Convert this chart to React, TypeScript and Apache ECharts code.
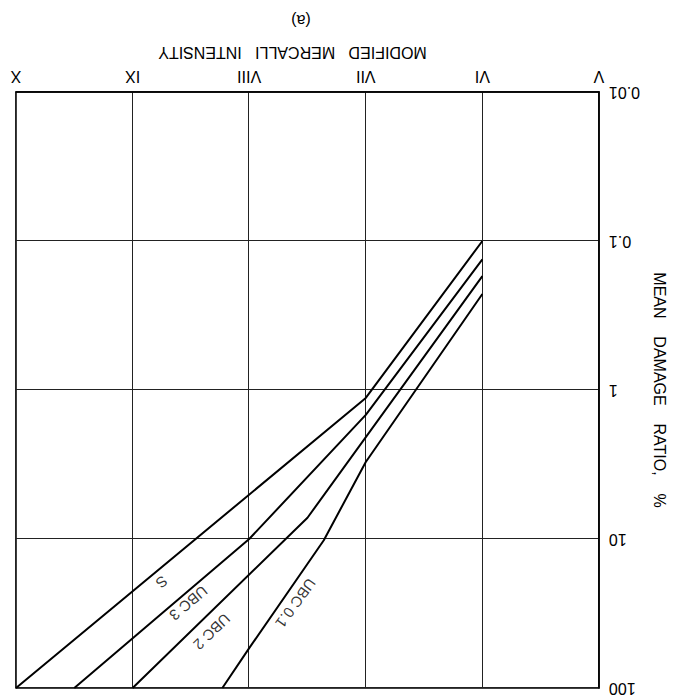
import React, { useEffect, useRef } from "react";
import * as echarts from "echarts";

// Modified Mercalli Intensity axis (numeric 5..10 shown as roman numerals)
const intensityTicks = [5, 6, 7, 8, 9, 10];
const intensityLabels = ["V", "VI", "VII", "VIII", "IX", "X"];
// Mean damage ratio, % (log scale)
const ratioTicks = [0.01, 0.1, 1, 10, 100];
const ratioLabels = ["0.01", "0.1", "1", "10", "100"];

const seriesNames = ["S", "UBC 3", "UBC 2", "UBC 0.1"];

// curve S
const sIntensity = [6, 7, 10];
const sRatio = [0.1, 1.13, 100];
// curve UBC 3
const ubc3Intensity = [6, 7, 8, 9.5];
const ubc3Ratio = [0.133, 1.47, 10, 100];
// curve UBC 2
const ubc2Intensity = [6, 7.5, 9];
const ubc2Ratio = [0.172, 7.2, 100];
// curve UBC 0.1
const ubc01Intensity = [6, 7, 7.36, 8, 8.23];
const ubc01Ratio = [0.227, 3.04, 10.2, 54, 100];

// curve name labels: where they sit along each curve
const labelIntensity = [8.75, 8.52, 8.32, 7.6];
const labelRatio = [19.5, 27, 42, 27];
const labelAngle = [39, 40, 44, 54];

const FONT = "'Liberation Sans', Arial, Helvetica, sans-serif";
const INK = "#000";

function pairs(xs: number[], ys: number[]) {
  return xs.map((x, i) => [x, ys[i]]);
}

export default function App() {
  const ref = useRef<HTMLDivElement>(null);
  useEffect(() => {
    if (!ref.current) return;
    const chart = echarts.init(ref.current, undefined, { renderer: "svg" });
    const curves = [
      pairs(sIntensity, sRatio),
      pairs(ubc3Intensity, ubc3Ratio),
      pairs(ubc2Intensity, ubc2Ratio),
      pairs(ubc01Intensity, ubc01Ratio),
    ];
    const lineSeries = curves.map((d, i) => ({
      name: seriesNames[i],
      type: "line",
      data: d,
      symbol: "none",
      lineStyle: { color: INK, width: 2 },
      z: 3,
    }));
    const labelSeries = {
      name: "curve labels",
      type: "scatter",
      symbol: "circle",
      symbolSize: 2,
      itemStyle: { color: "rgba(0,0,0,0)" },
      silent: true,
      z: 4,
      data: seriesNames.map((n, i) => ({
        value: [labelIntensity[i], labelRatio[i]],
        label: {
          show: true,
          position: "inside",
          formatter: n,
          rotate: labelAngle[i],
          color: INK,
          textBorderWidth: 0,
          fontFamily: FONT,
          fontSize: 15,
        },
      })),
    };
    chart.setOption({
      animation: false,
      backgroundColor: "#fff",
      grid: {
        left: 73,
        right: 16,
        top: 12,
        bottom: 92,
        show: true,
        borderColor: INK,
        borderWidth: 1.5,
      },
      xAxis: {
        type: "value",
        min: intensityTicks[0],
        max: intensityTicks[intensityTicks.length - 1],
        interval: 1,
        name: "MODIFIED   MERCALLI   INTENSITY",
        nameLocation: "middle",
        nameGap: 32,
        nameTextStyle: {
          color: INK,
          fontFamily: FONT,
          fontSize: 16,
          padding: [0, 0, 0, 30],
        },
        axisLine: { show: true, lineStyle: { color: INK, width: 1.5 } },
        axisTick: { show: false },
        axisLabel: {
          color: INK,
          fontFamily: FONT,
          fontSize: 16,
          margin: 8,
          formatter: (v: number) => {
            const i = intensityTicks.indexOf(Math.round(v));
            return i >= 0 ? intensityLabels[i] : "";
          },
        },
        splitLine: { show: true, lineStyle: { color: "#222", width: 1 } },
      },
      yAxis: {
        type: "log",
        logBase: 10,
        min: ratioTicks[0],
        max: ratioTicks[ratioTicks.length - 1],
        name: "MEAN    DAMAGE    RATIO,    %",
        nameLocation: "middle",
        nameGap: 44,
        nameTextStyle: { color: INK, fontFamily: FONT, fontSize: 16 },
        axisLine: { show: true, lineStyle: { color: INK, width: 1.5 } },
        axisTick: { show: false },
        axisLabel: {
          color: INK,
          fontFamily: FONT,
          fontSize: 16,
          margin: 10,
          formatter: (v: number) => {
            const e = Math.round(Math.log10(v));
            const i = ratioTicks.findIndex((t) => Math.round(Math.log10(t)) === e);
            return i >= 0 ? ratioLabels[i] : "";
          },
        },
        splitLine: { show: true, lineStyle: { color: "#222", width: 1 } },
      },
      graphic: [
        {
          type: "text",
          x: 374,
          y: 680,
          style: {
            text: "(a)",
            fill: INK,
            font: `16px ${FONT}`,
            textAlign: "center",
            textVerticalAlign: "middle",
          },
        },
      ],
      series: [...lineSeries, labelSeries],
    });
    return () => chart.dispose();
  }, []);
  return (
    <div
      ref={ref}
      style={{
        position: "absolute",
        left: 0,
        top: 0,
        width: 675,
        height: 700,
        transform: "rotate(180deg)",
      }}
    />
  );
}
